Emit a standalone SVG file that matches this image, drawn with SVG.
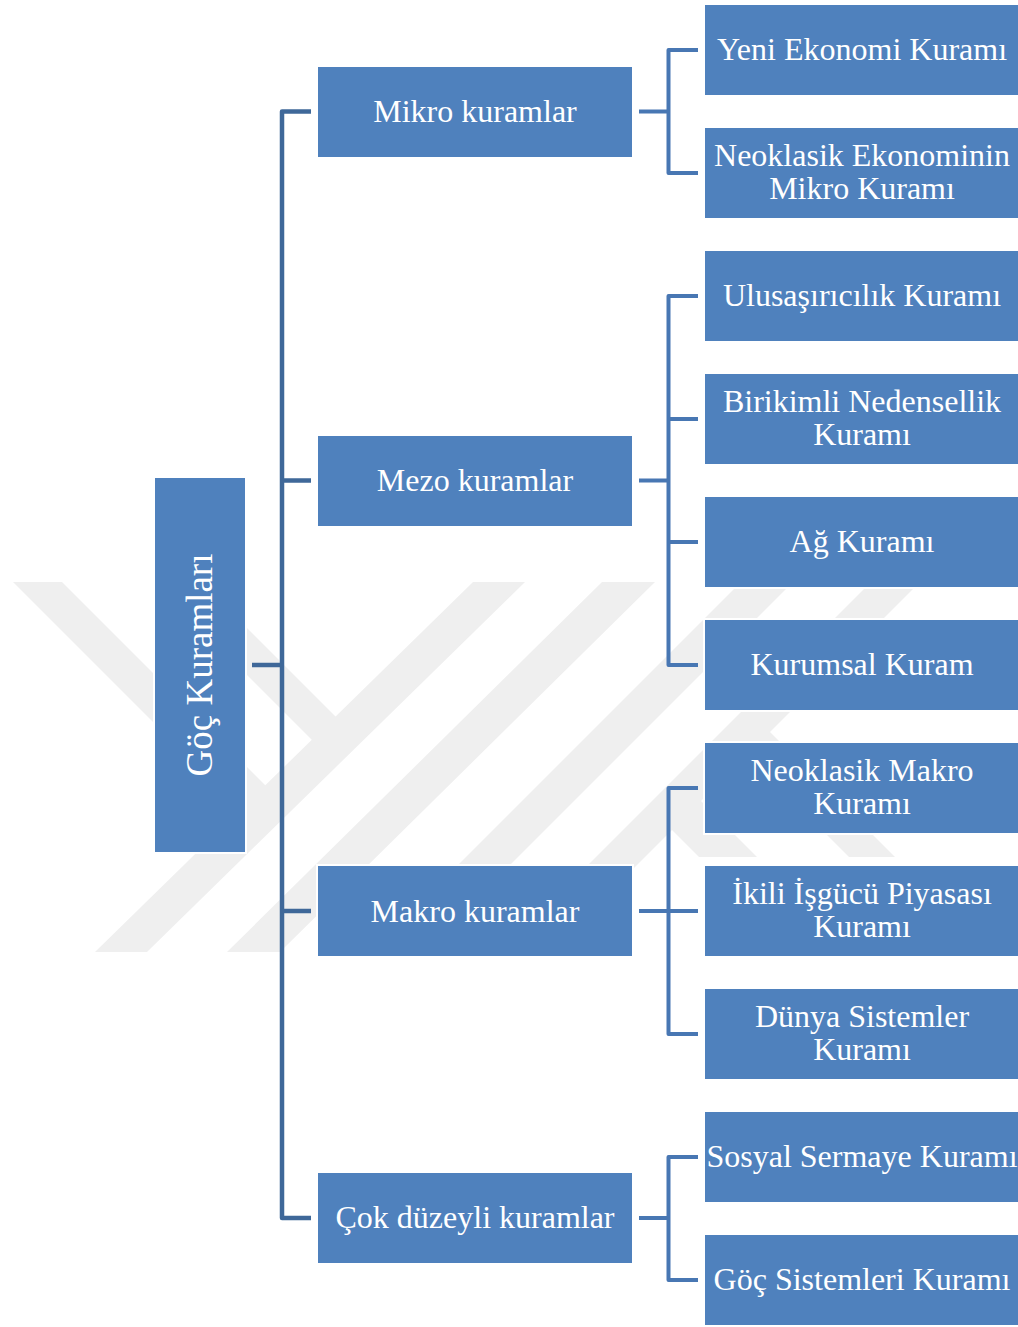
<svg xmlns="http://www.w3.org/2000/svg" width="1018" height="1327" viewBox="0 0 1018 1327">
<style>
.box{fill:#4f81bd;stroke:#ffffff;stroke-width:2}
.t{font-family:"Liberation Serif","Times New Roman",serif;font-size:32px;fill:#ffffff;text-anchor:middle}
.root{font-size:37px}
.c1{fill:none;stroke:#3f6899;stroke-width:4.5;stroke-linejoin:round}
.c2{fill:none;stroke:#4877b3;stroke-width:4;stroke-linejoin:round}
.wm{fill:#efefef}
</style>
<rect x="0" y="0" width="1018" height="1327" fill="#ffffff"/>
<g id="watermark">
<polygon class="wm" points="13,582 62,582 267.5,787.5 243,812"/>
<polygon class="wm" points="154,582 201,582 337,718 313.5,741.5"/>
<polygon class="wm" points="473,582 525,582 147,952 95,952"/>
<polygon class="wm" points="602,582 655,582 280,952 227,952"/>
<polygon class="wm" points="741,582 793,582 423,952 371,952"/>
<polygon class="wm" points="871,582 920,582 550,952 501,952"/>
<polygon class="wm" points="660,818 689,789 757,857 699,857"/>
<polygon class="wm" points="735,743 758,720 895,857 849,857"/>
</g>
<g id="connectors">
<path class="c1" d="M252,665 H282"/>
<path class="c1" d="M311,111.5 H282 V1218 H311"/>
<path class="c1" d="M282,480.5 H311 M282,911 H311"/>
<path class="c2" d="M639,111.5 H668.5 M698,50 H668.5 V173 H698"/>
<path class="c2" d="M639,480.5 H668.5 M698,296 H668.5 V665 H698 M668.5,419 H698 M668.5,542 H698"/>
<path class="c2" d="M639,911 H668.5 M698,788 H668.5 V1034 H698 M668.5,911 H698"/>
<path class="c2" d="M639,1218 H668.5 M698,1157 H668.5 V1280 H698"/>
</g>
<g id="n-root">
<rect class="box" x="154" y="477" width="92" height="376"/>
<text class="t root" transform="translate(212,665) rotate(-90)">Göç Kuramları</text>
</g>
<g id="n-mikro">
<rect class="box" x="317" y="66" width="316" height="92"/>
<text class="t" x="475" y="122">Mikro kuramlar</text>
</g>
<g id="n-mezo">
<rect class="box" x="317" y="435" width="316" height="92"/>
<text class="t" x="475" y="491">Mezo kuramlar</text>
</g>
<g id="n-makro">
<rect class="box" x="317" y="865" width="316" height="92"/>
<text class="t" x="475" y="921.5">Makro kuramlar</text>
</g>
<g id="n-cok">
<rect class="box" x="317" y="1172" width="316" height="92"/>
<text class="t" x="475" y="1228">Çok düzeyli kuramlar</text>
</g>
<g id="n-yeni">
<rect class="box" x="704" y="4" width="316" height="92"/>
<text class="t" x="862" y="60">Yeni Ekonomi Kuramı</text>
</g>
<g id="n-neoklasik-mikro">
<rect class="box" x="704" y="127" width="316" height="92"/>
<text class="t" x="862" y="166">Neoklasik Ekonominin</text>
<text class="t" x="862" y="199">Mikro Kuramı</text>
</g>
<g id="n-ulusasiri">
<rect class="box" x="704" y="250" width="316" height="92"/>
<text class="t" x="862" y="306">Ulusaşırıcılık Kuramı</text>
</g>
<g id="n-birikimli">
<rect class="box" x="704" y="373" width="316" height="92"/>
<text class="t" x="862" y="412">Birikimli Nedensellik</text>
<text class="t" x="862" y="445">Kuramı</text>
</g>
<g id="n-ag">
<rect class="box" x="704" y="496" width="316" height="92"/>
<text class="t" x="862" y="552">Ağ Kuramı</text>
</g>
<g id="n-kurumsal">
<rect class="box" x="704" y="619" width="316" height="92"/>
<text class="t" x="862" y="675">Kurumsal Kuram</text>
</g>
<g id="n-neoklasik-makro">
<rect class="box" x="704" y="742" width="316" height="92"/>
<text class="t" x="862" y="781">Neoklasik Makro</text>
<text class="t" x="862" y="814">Kuramı</text>
</g>
<g id="n-ikili">
<rect class="box" x="704" y="865" width="316" height="92"/>
<text class="t" x="862" y="904">İkili İşgücü Piyasası</text>
<text class="t" x="862" y="937">Kuramı</text>
</g>
<g id="n-dunya">
<rect class="box" x="704" y="988" width="316" height="92"/>
<text class="t" x="862" y="1027">Dünya Sistemler</text>
<text class="t" x="862" y="1060">Kuramı</text>
</g>
<g id="n-sosyal">
<rect class="box" x="704" y="1111" width="316" height="92"/>
<text class="t" x="862" y="1167">Sosyal Sermaye Kuramı</text>
</g>
<g id="n-goc-sistemleri">
<rect class="box" x="704" y="1234" width="316" height="92"/>
<text class="t" x="862" y="1290">Göç Sistemleri Kuramı</text>
</g>
</svg>
